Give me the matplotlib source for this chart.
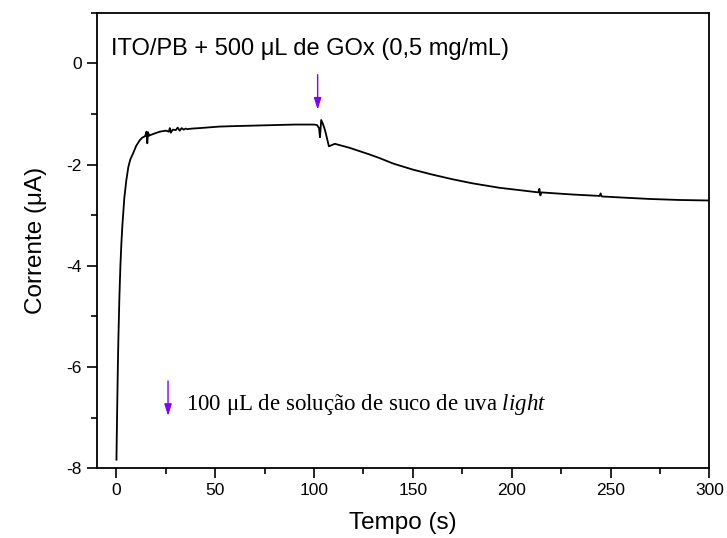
import matplotlib.pyplot as plt
from matplotlib.ticker import MultipleLocator

# chronoamperometry trace
tempo = [0, 0.3, 0.7, 1.0, 1.5, 2.0, 2.5, 3.0, 4.0, 5.0, 6.0, 7.0, 8.4, 10, 11.8,
         13, 14.5, 15.2, 15.6, 16.0, 16.5, 17, 19, 22, 25, 26.5, 27, 27.5, 28.5,
         30, 31, 32, 33, 34, 35, 36, 38, 42, 52, 60, 70, 80, 90, 100, 101.5,
         102.5, 103, 103.6, 104.5, 105.6, 107.5, 110.5, 118, 128, 133, 140,
         150, 160, 170, 180, 194, 205, 213.5, 214, 214.5, 215, 230, 244.5,
         245, 245.5, 260, 270, 285, 300]
corrente = [-7.83, -7.0, -6.0, -5.4, -4.6, -4.0, -3.55, -3.2, -2.65, -2.31, -2.05,
            -1.9, -1.78, -1.63, -1.52, -1.47, -1.44, -1.35, -1.58, -1.36, -1.43,
            -1.42, -1.39, -1.35, -1.33, -1.35, -1.28, -1.37, -1.31, -1.32, -1.27,
            -1.33, -1.28, -1.31, -1.29, -1.30, -1.29, -1.28, -1.25, -1.24, -1.23,
            -1.22, -1.21, -1.21, -1.22, -1.28, -1.46, -1.12, -1.20, -1.33, -1.64,
            -1.59, -1.67, -1.80, -1.87, -1.98, -2.10, -2.20, -2.29, -2.37, -2.46,
            -2.51, -2.55, -2.48, -2.61, -2.55, -2.59, -2.62, -2.57, -2.63, -2.66,
            -2.68, -2.70, -2.71]

xticks = [0, 50, 100, 150, 200, 250, 300]
yticks = [0, -2, -4, -6, -8]

titulo = "ITO/PB + 500 \u03bcL de GOx (0,5 mg/mL)"
nota = "100 \u03bcL de solu\u00e7\u00e3o de suco de uva $\\it{light}$"
roxo = "#7F00FF"

plt.rcParams["font.family"] = ["Liberation Sans", "DejaVu Sans"]
plt.rcParams["axes.unicode_minus"] = False
plt.rcParams["mathtext.fontset"] = "custom"
plt.rcParams["mathtext.it"] = "Liberation Serif:italic"

fig = plt.figure(figsize=(7.27, 5.38), dpi=100)
ax = fig.add_axes([0.133, 0.1296, 0.8427, 0.8468])

ax.plot(tempo, corrente, color="black", lw=1.3)

ax.set_xlim(-10, 300)
ax.set_ylim(-8, 1)
ax.set_xticks(xticks)
ax.set_yticks(yticks)
ax.xaxis.set_minor_locator(MultipleLocator(25))
ax.yaxis.set_minor_locator(MultipleLocator(1))
ax.tick_params(which="major", direction="out", length=7, width=1.2, labelsize=12.5)
ax.tick_params(which="minor", direction="out", length=4, width=1.2)
for s in ax.spines.values():
    s.set_linewidth(1.3)

ax.set_xlabel("Tempo (s)", fontsize=17.5, labelpad=10)
ax.set_ylabel("Corrente (\u03bcA)", fontsize=17.5, labelpad=14)

ax.text(-3, 0.17, titulo, fontsize=17, va="baseline", ha="left")
ax.text(35, -6.85, nota, fontsize=16.5, va="baseline", ha="left",
        family="Liberation Serif")

ax.annotate("", xy=(101.8, -0.97), xytext=(101.8, -0.17),
            arrowprops=dict(arrowstyle="-|>,head_length=0.7,head_width=0.22",
                            color=roxo, lw=1))
ax.annotate("", xy=(26.1, -7.02), xytext=(26.1, -6.22),
            arrowprops=dict(arrowstyle="-|>,head_length=0.7,head_width=0.22",
                            color=roxo, lw=1))

fig.savefig("out.png", dpi=100)
